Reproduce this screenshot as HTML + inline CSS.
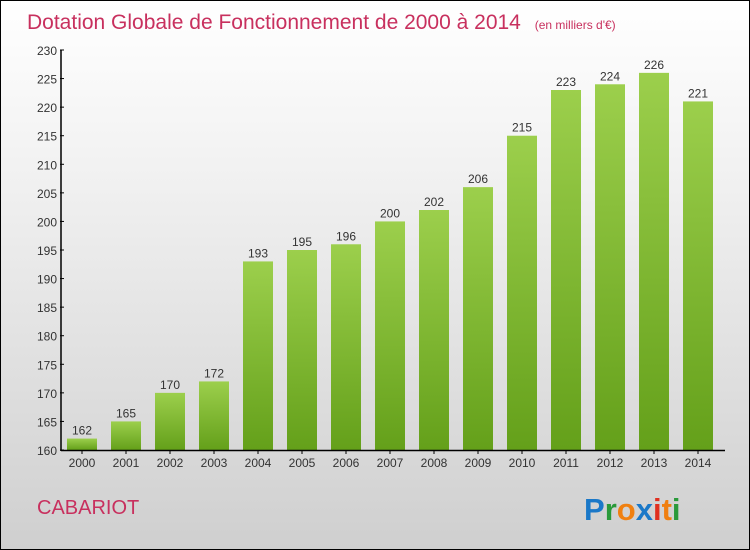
<!DOCTYPE html>
<html><head><meta charset="utf-8"><style>
body{margin:0;}
#c{position:relative;width:748px;height:548px;border:1px solid #000;background:linear-gradient(#fff,#f2f2f2 30%,#cfcfcf);font-family:"Liberation Sans",sans-serif;overflow:hidden}
</style></head><body>
<div id="c">
<svg id="s" width="748" height="548">
<defs><linearGradient id="g" x1="0" y1="0" x2="0" y2="1"><stop offset="0" stop-color="#9ccf4c"/><stop offset="1" stop-color="#64a01a"/></linearGradient></defs>
<text x="26" y="28" font-size="21" fill="#c8305e">Dotation Globale de Fonctionnement de 2000 à 2014 <tspan font-size="12" dx="8">(en milliers d'€)</tspan></text>
<text x="36" y="513" font-size="20" fill="#c8305e">CABARIOT</text>
<text x="583" y="519" font-size="31" font-weight="bold"><tspan fill="#1a78c8">P</tspan><tspan fill="#2a9a3a">r</tspan><tspan fill="#f08010">o</tspan><tspan fill="#1a78c8">x</tspan><tspan fill="#e03020">i</tspan><tspan fill="#f08010">t</tspan><tspan fill="#2a9a3a">i</tspan></text>
</svg></div>
<script>
const years=["2000","2001","2002","2003","2004","2005","2006","2007","2008","2009","2010","2011","2012","2013","2014"];
const values=[162,165,170,172,193,195,196,200,202,206,215,223,224,226,221];
const ticks=[160,165,170,175,180,185,190,195,200,205,210,215,220,225,230];
const s=document.getElementById('s');const NS='http://www.w3.org/2000/svg';
const y=v=>449-(v-160)*400/70;const x=i=>66+i*44;
function mk(t,a,txt){const e=document.createElementNS(NS,t);for(const k in a)e.setAttribute(k,a[k]);if(txt!==undefined)e.textContent=txt;s.appendChild(e);return e;}
values.forEach((v,i)=>{
const b=mk('rect',{x:x(i),y:y(v),width:30,height:449-y(v),fill:'url(#g)'});


const l=mk('text',{x:x(i)+15,y:y(v)-4,'font-size':12,fill:'#333','text-anchor':'middle'},v);


const t=mk('text',{x:x(i)+15,y:466,'font-size':12,fill:'#333','text-anchor':'middle'},years[i]);


mk('line',{x1:x(i)+15,x2:x(i)+15,y1:449,y2:453,stroke:'#000'});
});
ticks.forEach(v=>{
const t=mk('text',{x:56,y:y(v)+5,'font-size':12,fill:'#333','text-anchor':'end'},v);


mk('line',{x1:59,x2:63,y1:y(v),y2:y(v),stroke:'#000'});
});
const ya=mk('line',{x1:60,x2:60,y1:49,y2:450,stroke:'#000','stroke-width':1.5});


const xa=mk('line',{x1:60,x2:724,y1:449.5,y2:449.5,stroke:'#000','stroke-width':1.5});


</script>
</body></html>
